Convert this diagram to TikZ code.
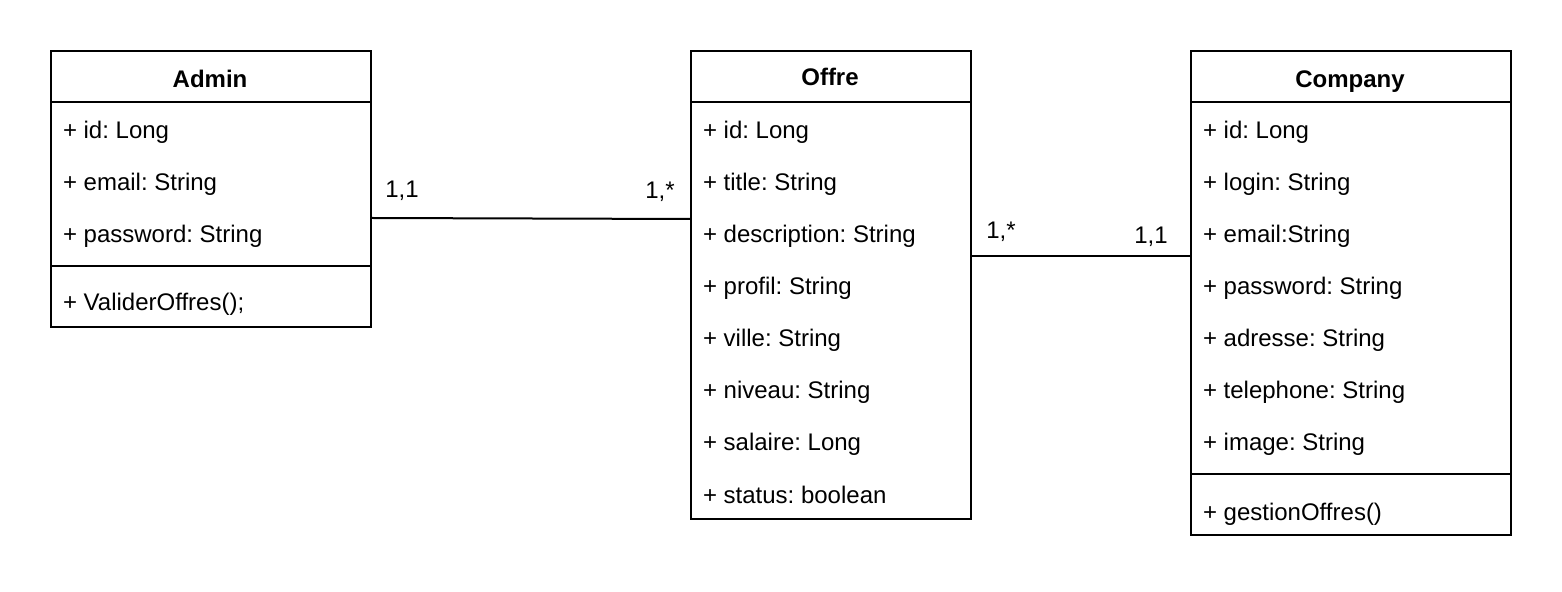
\documentclass[tikz,border=0pt]{standalone}
\usepackage{fontspec}
\setmainfont{Liberation Sans}
\usetikzlibrary{calc}
\frenchspacing

\begin{document}
\begin{tikzpicture}[x=0.5pt, y=-0.5pt, line width=1pt,
  classbox/.style={draw, line width=1pt, anchor=north west, inner sep=0pt},
  member/.style={anchor=base west, inner sep=0pt, font=\fontsize{12}{14}\selectfont},
  classname/.style={anchor=base, inner sep=0pt, font=\fontsize{12}{14}\selectfont\bfseries},
  mult/.style={anchor=base, inner sep=0pt, font=\fontsize{12}{14}\selectfont}]
\useasboundingbox (0,0) rectangle (1562,592);

% classes
\node[classbox, minimum width=160pt, minimum height=138pt] (admin) at (50,50) {};
\node[classbox, minimum width=140pt, minimum height=234pt] (offre) at (690,50) {};
\node[classbox, minimum width=160pt, minimum height=242pt] (company) at (1190,50) {};

\node[classname] (admin-t) at (210,88) {Admin};
\node[classname] (offre-t) at (830,86) {Offre};
\node[classname] (company-t) at (1350,88) {Company};

% compartments
\draw (admin.west |- 0,102) -- (admin.east |- 0,102);
\draw (admin.west |- 0,266) -- (admin.east |- 0,266);
\draw (offre.west |- 0,102) -- (offre.east |- 0,102);
\draw (company.west |- 0,102) -- (company.east |- 0,102);
\draw (company.west |- 0,474) -- (company.east |- 0,474);

% attributes
\foreach \t [count=\i] in {{+ id: Long},{+ email: String},{+ password: String}}
  \node[member] (admin-a\i) at (62,{139+52*(\i-1)}) {\t};
\node[member] (admin-m1) at (62,311) {+ ValiderOffres();};

\foreach \t [count=\i] in {{+ id: Long},{+ title: String},{+ description: String},
    {+ profil: String},{+ ville: String},{+ niveau: String},{+ salaire: Long},
    {+ status: boolean}}
  \node[member] (offre-a\i) at (702,{139+52*(\i-1)}) {\t};

\foreach \t [count=\i] in {{+ id: Long},{+ login: String},{+ email:String},
    {+ password: String},{+ adresse: String},{+ telephone: String},{+ image: String}}
  \node[member] (company-a\i) at (1202,{139+52*(\i-1)}) {\t};
\node[member] (company-m1) at (1202,520) {+ gestionOffres()};

% associations
\draw (admin.east |- 0,218) -- (offre.west |- 0,219);
\draw (offre.east |- 0,256) -- (company.west |- 0,256);

\node[mult] (m1) at (402,198) {1,1};
\node[mult] (m2) at (660,199) {1,*};
\node[mult] (m3) at (1001,239) {1,*};
\node[mult] (m4) at (1151,244) {1,1};
\end{tikzpicture}
\end{document}
